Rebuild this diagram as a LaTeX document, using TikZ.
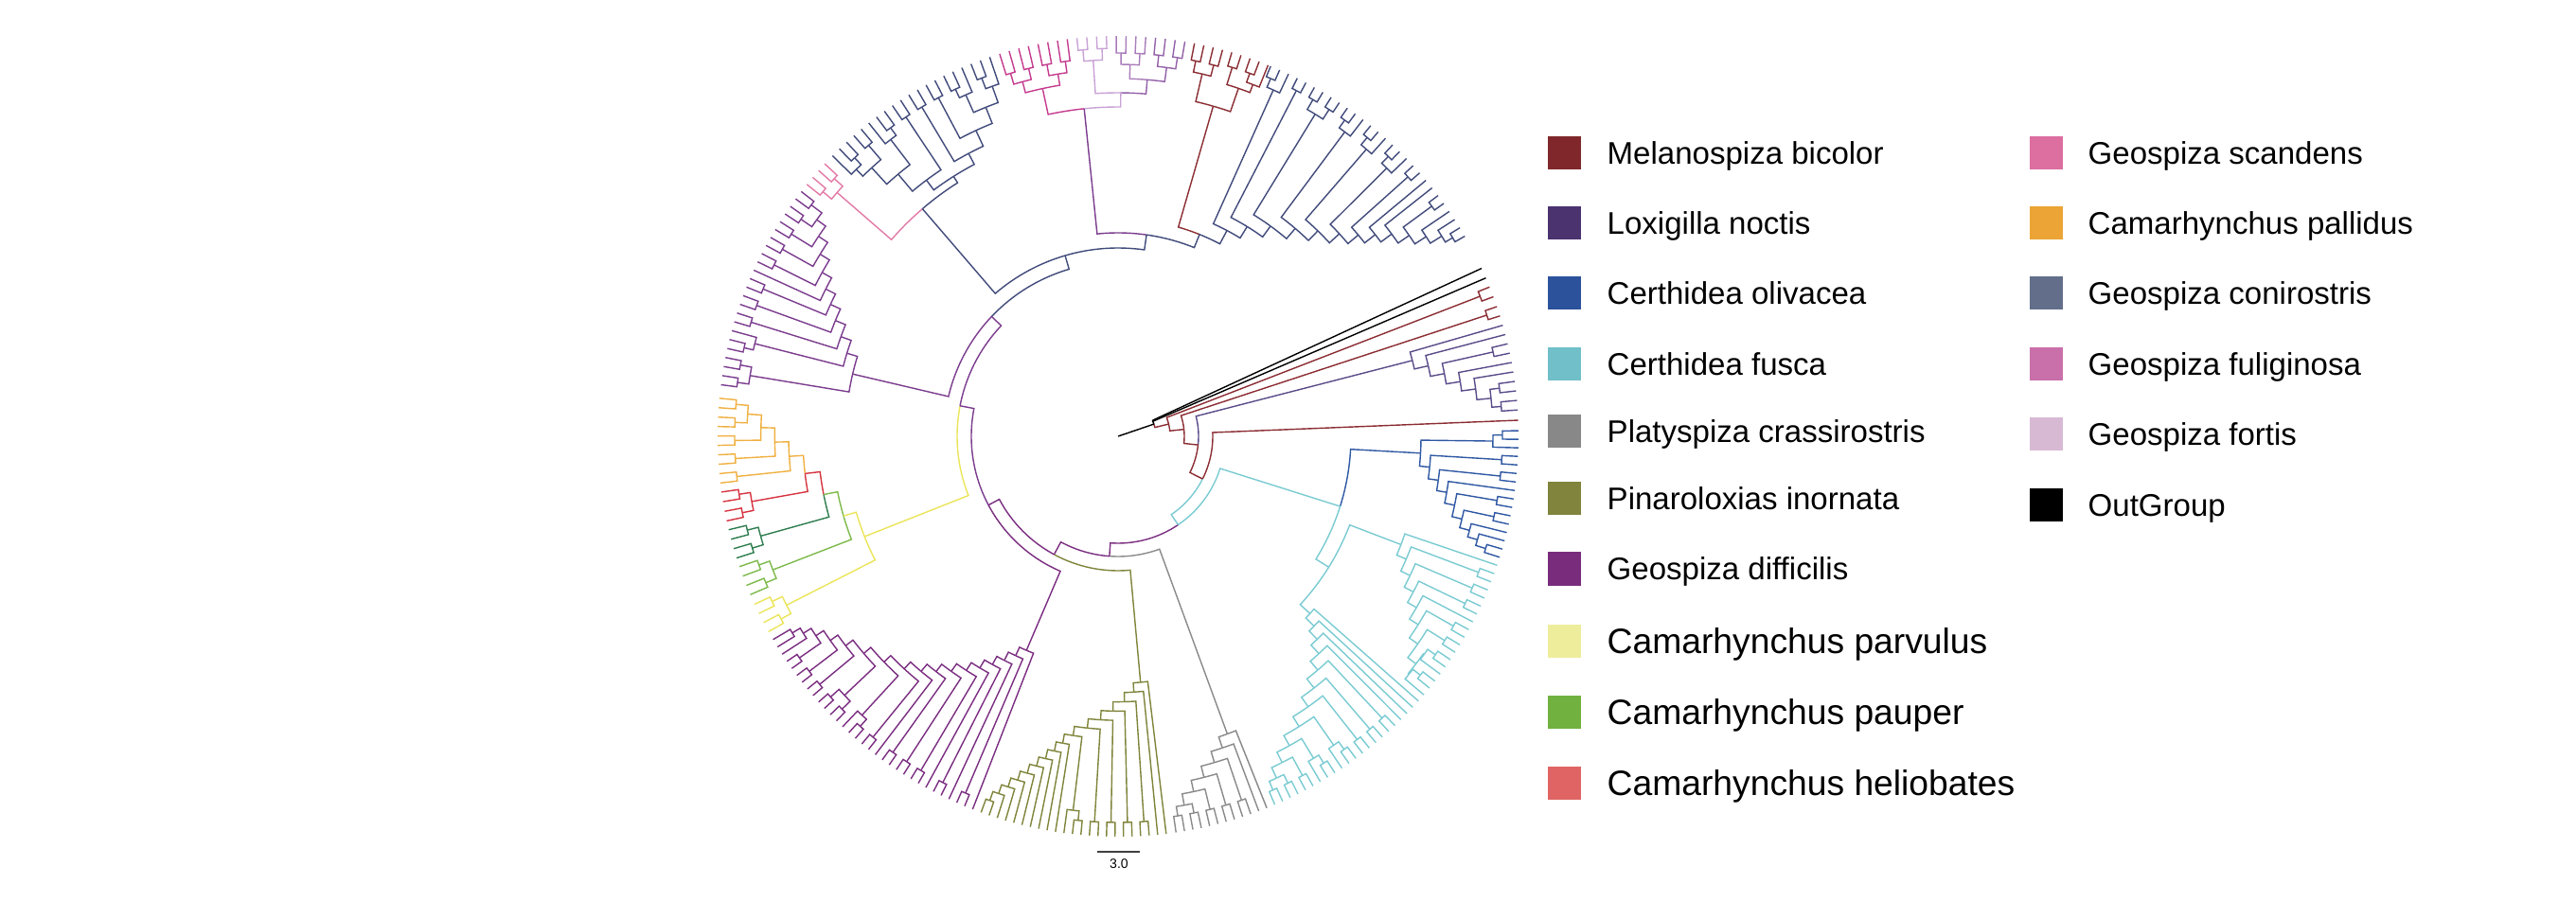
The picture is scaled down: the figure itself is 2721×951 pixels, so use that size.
\documentclass[tikz,border=0pt]{standalone}
\usepackage{fontspec}
\setmainfont{Liberation Sans}
% branch colours
\definecolor{cOut}{HTML}{000000}
\definecolor{cMel}{HTML}{8B2D33}
\definecolor{cLox}{HTML}{5A4C8A}
\definecolor{cOli}{HTML}{2F58A3}
\definecolor{cFus}{HTML}{7ACBD2}
\definecolor{cPla}{HTML}{8A8A8A}
\definecolor{cPin}{HTML}{7F843A}
\definecolor{cDif}{HTML}{7A2D80}
\definecolor{cPar}{HTML}{EBE45A}
\definecolor{cPau}{HTML}{7DBA4B}
\definecolor{cDkg}{HTML}{2E7D4F}
\definecolor{cHel}{HTML}{D63440}
\definecolor{cPal}{HTML}{F0B040}
\definecolor{cCon}{HTML}{414B7B}
\definecolor{cSca}{HTML}{E27AA6}
\definecolor{cFul}{HTML}{C43A8E}
\definecolor{cFor}{HTML}{C9A2D6}
\definecolor{cPur}{HTML}{7B3C8E}
\definecolor{cVio}{HTML}{9361A8}
% legend colours
\definecolor{lMel}{HTML}{80272B}
\definecolor{lLox}{HTML}{4B3370}
\definecolor{lOli}{HTML}{2B529B}
\definecolor{lFus}{HTML}{70BFC9}
\definecolor{lPla}{HTML}{888888}
\definecolor{lPin}{HTML}{80843C}
\definecolor{lDif}{HTML}{792C7C}
\definecolor{lPar}{HTML}{EEED9C}
\definecolor{lPau}{HTML}{71B13F}
\definecolor{lHel}{HTML}{E06464}
\definecolor{lSca}{HTML}{DC6EA0}
\definecolor{lPal}{HTML}{EBA435}
\definecolor{lCon}{HTML}{636E8B}
\definecolor{lFul}{HTML}{C96FAA}
\definecolor{lFor}{HTML}{D8B9D4}
\definecolor{lOut}{HTML}{000000}

\newcommand{\Rt}{423}
% branch: arc at parent radius from parent angle to child angle, then out to child radius
\newcommand{\br}[5][]{\draw[#1] (#2:#3) arc[start angle=#2, end angle=#4, radius=#3] -- (#4:#5);}
% small tip group: size, first tip angle, step, cherry radius
\newcommand{\grp}[4]{%
  \ifcase#1\relax\or
    \xdef\gang{#2}\xdef\grad{\Rt}%
  \or
    \pgfmathsetmacro{\tipA}{#2+0.5*(#3)}%
    \pgfmathsetmacro{\tipB}{#2+(#3)}%
    \br{\tipA}{#4}{#2}{\Rt}\br{\tipA}{#4}{\tipB}{\Rt}%
    \xdef\gang{\tipA}\xdef\grad{#4}%
  \or
    \pgfmathsetmacro{\tipA}{#2+0.5*(#3)}%
    \pgfmathsetmacro{\tipB}{#2+(#3)}%
    \pgfmathsetmacro{\tipC}{#2+2*(#3)}%
    \pgfmathsetmacro{\tipN}{(\tipA+\tipC)/2}%
    \pgfmathsetmacro{\tipR}{#4-10}%
    \br{\tipA}{#4}{#2}{\Rt}\br{\tipA}{#4}{\tipB}{\Rt}%
    \br{\tipN}{\tipR}{\tipA}{#4}\br{\tipN}{\tipR}{\tipC}{\Rt}%
    \xdef\gang{\tipN}\xdef\grad{\tipR}%
  \or
    \pgfmathsetmacro{\tipA}{#2+0.5*(#3)}%
    \pgfmathsetmacro{\tipB}{#2+(#3)}%
    \pgfmathsetmacro{\tipC}{#2+2*(#3)}%
    \pgfmathsetmacro{\tipD}{#2+3*(#3)}%
    \pgfmathsetmacro{\tipE}{#2+2.5*(#3)}%
    \pgfmathsetmacro{\tipN}{#2+1.5*(#3)}%
    \pgfmathsetmacro{\tipR}{#4-12}%
    \br{\tipA}{#4}{#2}{\Rt}\br{\tipA}{#4}{\tipB}{\Rt}%
    \br{\tipE}{#4}{\tipC}{\Rt}\br{\tipE}{#4}{\tipD}{\Rt}%
    \br{\tipN}{\tipR}{\tipA}{#4}\br{\tipN}{\tipR}{\tipE}{#4}%
    \xdef\gang{\tipN}\xdef\grad{\tipR}%
  \fi}
% ladder of groups: sizes, first tip angle, step, first node radius, last node radius, cherry radius
\newcommand{\lad}[6]{%
  \xdef\tipnow{#2}\xdef\ngrp{0}%
  \foreach \g in {#1}{%
    \grp{\g}{\tipnow}{#3}{#6}%
    \pgfmathtruncatemacro{\kn}{\ngrp+1}%
    \expandafter\xdef\csname ladA\kn\endcsname{\gang}%
    \expandafter\xdef\csname ladR\kn\endcsname{\grad}%
    \pgfmathsetmacro{\nxt}{\tipnow+\g*(#3)}%
    \xdef\tipnow{\nxt}\xdef\ngrp{\kn}%
  }%
  \xdef\nodeA{\csname ladA\ngrp\endcsname}%
  \xdef\nodeR{\csname ladR\ngrp\endcsname}%
  \pgfmathtruncatemacro{\kk}{\ngrp-1}%
  \foreach \j in {\kk,...,1}{%
    \edef\lA{\csname ladA\j\endcsname}\edef\lR{\csname ladR\j\endcsname}%
    \pgfmathsetmacro{\rj}{#4+(\j-1)*(#5-(#4))/max(\ngrp-2,1)}%
    \pgfmathsetmacro{\aj}{(\lA+\nodeA)/2}%
    \br{\aj}{\rj}{\lA}{\lR}\br{\aj}{\rj}{\nodeA}{\nodeR}%
    \xdef\nodeA{\aj}\xdef\nodeR{\rj}%
  }}

\begin{document}
\begin{tikzpicture}[x=0.1mm,y=0.1mm,line width=0.4pt]
\useasboundingbox (0,0) rectangle (2721,951);

\begin{scope}[shift={(1181,490)}]
% outgroup and the first pairs
\begin{scope}[color=cOut]\grp{2}{24.8}{-1.5}{41}\end{scope}\let\aOut\gang\let\rOut\grad
\begin{scope}[color=cMel]\grp{2}{21.9}{-1.5}{410}\end{scope}\let\aMa\gang\let\rMa\grad
\begin{scope}[color=cMel]\grp{2}{18.9}{-1.4}{410}\end{scope}\let\aMb\gang\let\rMb\grad
% Loxigilla
\begin{scope}[color=cLox]\lad{1,1,2,1,1,2,2}{16.1}{-1.37}{321}{396}{406}\end{scope}\let\aLox\nodeA\let\rLox\nodeR
% Certhidea
\begin{scope}[color=cOli]\lad{3,2,2,1,2,2,1,1,2}{0.8}{-1.226}{320}{395}{406}\end{scope}\let\aOli\nodeA\let\rOli\nodeR
\begin{scope}[color=cFus]\lad{1,2,2,2,1,2,2,3,3}{-18.8}{-1.26}{320}{396}{407}\end{scope}\let\aFa\nodeA\let\rFa\nodeR
\begin{scope}[color=cFus]\lad{1,1,1,1,2,2,2,3,3,2,2,2}{-41.4}{-1.217}{276}{398}{408}\end{scope}\let\aFb\nodeA\let\rFb\nodeR
\pgfmathsetmacro{\aFus}{(\aFa+\aFb)/2}
\br[cFus]{\aFus}{262}{\aFa}{\rFa}\br[cFus]{\aFus}{262}{\aFb}{\rFb}
\pgfmathsetmacro{\aCer}{(\aOli+\aFus)/2}
\br[cOli]{\aCer}{246}{\aOli}{\rOli}\br[cFus]{\aCer}{246}{\aFus}{262}
% Platyspiza, Pinaroloxias, difficilis
\begin{scope}[color=cPla]\lad{1,1,2,2,2,2,2}{-68.2}{-1.225}{335}{396}{406}\end{scope}\let\aPla\nodeA\let\rPla\nodeR
\begin{scope}[color=cPin]\lad{1,1,2,2,2,2,3,1,1,1,1,1,1,1,1,2}{-83.1}{-1.223}{261}{398}{408}\end{scope}\let\aPin\nodeA\let\rPin\nodeR
\begin{scope}[color=cDif]\lad{1,2,1,2,1,2,2,2,1,2,3,4,2,2,2,1,1,1}{-111.3}{-1.232}{246}{402}{410}\end{scope}\let\aDif\nodeA\let\rDif\nodeR
% Camarhynchus group
\begin{scope}[color=cPar]\grp{4}{-150.8}{-1.467}{405}\end{scope}\let\aPar\gang\let\rPar\grad
\begin{scope}[color=cPau]\grp{4}{-156.7}{-1.433}{403}\end{scope}\let\aPau\gang\let\rPau\grad
\begin{scope}[color=cDkg]\grp{4}{-162.3}{-1.4}{404}\end{scope}\let\aDkg\gang\let\rDkg\grad
\begin{scope}[color=cHel]\grp{4}{-167.8}{-1.4}{405}\end{scope}\let\aHel\gang\let\rHel\grad
\begin{scope}[color=cPal]\lad{2,2,2,2,2}{-173.3}{-1.35}{348}{392}{405}\end{scope}\let\aPal\nodeA\let\rPal\nodeR
\pgfmathsetmacro{\aR}{(\aHel+\aPal)/2}
\br[cHel]{\aR}{333}{\aHel}{\rHel}\br[cPal]{\aR}{333}{\aPal}{\rPal}
\pgfmathsetmacro{\aYc}{(\aDkg+\aR)/2}
\br[cDkg]{\aYc}{317}{\aDkg}{\rDkg}\br[cHel]{\aYc}{317}{\aR}{333}
\pgfmathsetmacro{\aYb}{(\aPau+\aYc)/2}
\br[cPau]{\aYb}{302}{\aPau}{\rPau}\br[cPau]{\aYb}{302}{\aYc}{317}
\pgfmathsetmacro{\aYa}{(\aPar+\aYb)/2}
\br[cPar]{\aYa}{288}{\aPar}{\rPar}\br[cPar]{\aYa}{288}{\aYb}{302}
% left purple
\begin{scope}[color=cPur]\lad{4,3,2,2,2,1,2,2,2,2,2}{-187.4}{-1.317}{288}{392}{406}\end{scope}\let\aLp\nodeA\let\rLp\nodeR
% scandens and conirostris
\begin{scope}[color=cSca]\grp{4}{-219.0}{-1.3}{405}\end{scope}\let\aSca\gang\let\rSca\grad
\begin{scope}[color=cCon]\lad{2,3,2,3}{-237.1}{1.4}{338}{385}{405}\end{scope}\let\aSa\nodeA\let\rSa\nodeR
\begin{scope}[color=cCon]\lad{2,2,3,2,1}{-238.5}{-1.422}{338}{393}{405}\end{scope}\let\aSb\nodeA\let\rSb\nodeR
\pgfmathsetmacro{\aSo}{(\aSa+\aSb)/2}
\br[cCon]{\aSo}{325}{\aSa}{\rSa}\br[cCon]{\aSo}{325}{\aSb}{\rSb}
\pgfmathsetmacro{\aPS}{(\aSca+\aSo)/2}
\br[cSca]{\aPS}{317}{\aSca}{\rSca}\br[cCon]{\aPS}{317}{\aSo}{325}
% fuliginosa and fortis at the top
\begin{scope}[color=cFul]\grp{4}{-252.8}{-1.414}{400}\end{scope}\let\aMg\gang\let\rMg\grad
\begin{scope}[color=cFul]\grp{4}{-258.46}{-1.414}{400}\end{scope}\let\aMh\gang\let\rMh\grad
\pgfmathsetmacro{\aMag}{(\aMg+\aMh)/2}
\br[cFul]{\aMag}{376}{\aMg}{\rMg}\br[cFul]{\aMag}{376}{\aMh}{\rMh}
\begin{scope}[color=cFor]\grp{4}{-264.1}{-1.41}{410}\end{scope}\let\aLa\gang\let\rLa\grad
\begin{scope}[color=cVio!60!cFor]\grp{4}{-269.74}{-1.41}{405}\end{scope}\let\aLb\gang\let\rLb\grad
\begin{scope}[color=cVio]\grp{4}{-275.38}{-1.41}{405}\end{scope}\let\aLc\gang\let\rLc\grad
\pgfmathsetmacro{\aLbc}{(\aLb+\aLc)/2}
\br[cVio!60!cFor]{\aLbc}{378}{\aLb}{\rLb}\br[cVio]{\aLbc}{378}{\aLc}{\rLc}
\pgfmathsetmacro{\aLav}{(\aLa+\aLbc)/2}
\br[cFor]{\aLav}{363}{\aLa}{\rLa}\br[cVio]{\aLav}{363}{\aLbc}{378}
\pgfmathsetmacro{\aTop}{(\aMag+\aLav)/2}
\br[cFul]{\aTop}{348}{\aMag}{376}\br[cFor]{\aTop}{348}{\aLav}{363}
% Melanospiza clade
\begin{scope}[color=cMel]
  \grp{4}{-281}{-1.375}{405}\xdef\aBa{\gang}\xdef\rBa{\grad}
  \grp{2}{-286.5}{-1.375}{408}\xdef\aBb{\gang}
  \grp{3}{-289.25}{-1.375}{408}\xdef\aBc{\gang}\xdef\rBc{\grad}
  \pgfmathsetmacro{\aBd}{(\aBb+\aBc)/2}
  \br{\aBd}{389}{\aBb}{408}\br{\aBd}{389}{\aBc}{\rBc}
  \pgfmathsetmacro{\aMel}{(\aBa+\aBd)/2}\xdef\aMel{\aMel}
  \br{\aMel}{363}{\aBa}{\rBa}\br{\aMel}{363}{\aBd}{389}
\end{scope}
% conirostris fan
\begin{scope}[color=cCon]\lad{3,2,4,3,3,3,2,1,1,2,1,1,2}{-292.4}{-1.3926}{246}{402}{411}\end{scope}\let\aFan\nodeA\let\rFan\nodeR

% backbone, from the crown down to the root
\pgfmathsetmacro{\aNo}{(\aMel+\aFan)/2}
\br[cMel]{\aNo}{230}{\aMel}{363}\br[cCon]{\aNo}{230}{\aFan}{\rFan}
\pgfmathsetmacro{\aNn}{(\aTop+\aNo)/2}
\br[cPur]{\aNn}{215}{\aTop}{348}\br[cCon]{\aNn}{215}{\aNo}{230}
\pgfmathsetmacro{\aNm}{(\aPS+\aNn)/2}
\br[cCon]{\aNm}{199}{\aPS}{317}\br[cCon]{\aNm}{199}{\aNn}{215}
\pgfmathsetmacro{\aNl}{(\aLp+\aNm)/2}
\br[cPur]{\aNl}{184}{\aLp}{\rLp}\br[cCon]{\aNl}{184}{\aNm}{199}
\pgfmathsetmacro{\aNk}{(\aYa+\aNl)/2}
\br[cPar]{\aNk}{170}{\aYa}{288}\br[cPur]{\aNk}{170}{\aNl}{184}
\pgfmathsetmacro{\aNj}{(\aDif+\aNk)/2}
\br[cDif]{\aNj}{155}{\aDif}{\rDif}\br[cPur]{\aNj}{155}{\aNk}{170}
\pgfmathsetmacro{\aNi}{(\aPin+\aNj)/2}
\br[cPin]{\aNi}{142}{\aPin}{\rPin}\br[cDif]{\aNi}{142}{\aNj}{155}
\pgfmathsetmacro{\aNh}{(\aPla+\aNi)/2}
\br[cPla]{\aNh}{127}{\aPla}{\rPla}\br[cDif]{\aNh}{127}{\aNi}{142}
\pgfmathsetmacro{\aNg}{(\aCer+\aNh)/2}
\br[cFus]{\aNg}{113}{\aCer}{246}\br[cDif]{\aNg}{113}{\aNh}{127}
\pgfmathsetmacro{\aNf}{(2.3+\aNg)/2}
\br[cMel]{\aNf}{100}{2.3}{\Rt}\br[cFus]{\aNf}{100}{\aNg}{113}
\pgfmathsetmacro{\aNe}{(\aLox+\aNf)/2}
\br[cLox]{\aNe}{85}{\aLox}{\rLox}\br[cMel]{\aNe}{85}{\aNf}{100}
\pgfmathsetmacro{\aNd}{(\aMb+\aNe)/2}
\br[cMel]{\aNd}{70}{\aMb}{\rMb}\br[cMel]{\aNd}{70}{\aNe}{85}
\pgfmathsetmacro{\aNc}{(\aMa+\aNd)/2}
\br[cMel]{\aNc}{55}{\aMa}{\rMa}\br[cMel]{\aNc}{55}{\aNd}{70}
\pgfmathsetmacro{\aNb}{(\aOut+\aNc)/2}
\br[cOut]{\aNb}{40}{\aOut}{\rOut}\br[cMel]{\aNb}{40}{\aNc}{55}
\draw[cOut] (0,0) -- (\aNb:40);
\end{scope}

% scale bar
\coordinate (sbl) at (1159,51);
\coordinate (sbr) at (1204,51);
\draw[line width=0.7pt, black!75] (sbl) -- (sbr);
\node[font=\fontsize{4}{5}\selectfont, inner sep=0] (sblab) at (1182,38) {3.0};

% legend
\begin{scope}[font=\fontsize{9.4}{11}\selectfont]
\foreach \yc/\cl/\lbl [count=\i] in {162/lMel/Melanospiza bicolor, 236/lLox/Loxigilla noctis,
  310/lOli/Certhidea olivacea, 385/lFus/Certhidea fusca, 456/lPla/Platyspiza crassirostris,
  527/lPin/Pinaroloxias inornata, 601/lDif/Geospiza difficilis}{
  \fill[\cl] (1635,951-\yc-17.5) rectangle +(35,35);
  \node[anchor=base west, inner sep=0] (legL\i) at (1697,951-\yc-11.8) {\lbl};
}
\foreach \yc/\cl/\lbl [count=\i] in {162/lSca/Geospiza scandens, 236/lPal/Camarhynchus pallidus,
  310/lCon/Geospiza conirostris, 385/lFul/Geospiza fuliginosa, 459/lFor/Geospiza fortis,
  534/lOut/OutGroup}{
  \fill[\cl] (2144,951-\yc-17.5) rectangle +(35,35);
  \node[anchor=base west, inner sep=0] (legR\i) at (2205,951-\yc-11.8) {\lbl};
}
\end{scope}
\begin{scope}[font=\fontsize{10.6}{12}\selectfont]
\foreach \yc/\cl/\lbl [count=\i] in {677/lPar/Camarhynchus parvulus, 752/lPau/Camarhynchus pauper,
  827/lHel/Camarhynchus heliobates}{
  \fill[\cl] (1635,951-\yc-17.5) rectangle +(35,35);
  \node[anchor=base west, inner sep=0] (legB\i) at (1697,951-\yc-13.3) {\lbl};
}
\end{scope}
\end{tikzpicture}
\end{document}
